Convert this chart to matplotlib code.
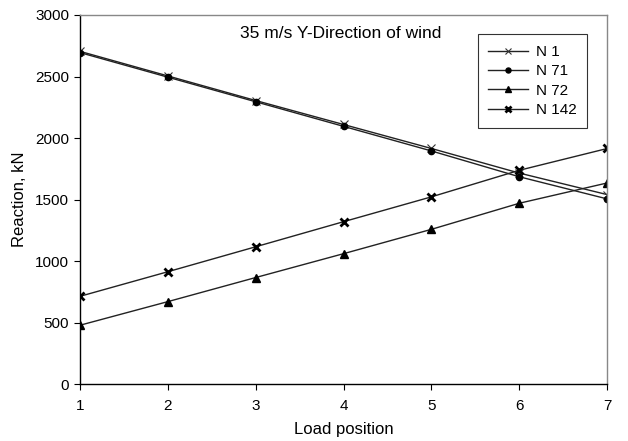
import matplotlib.pyplot as plt

plt.rcParams['font.family'] = ['Liberation Sans', 'DejaVu Sans']

positions = [1, 2, 3, 4, 5, 6, 7]
n1 = [2705, 2505, 2305, 2110, 1915, 1715, 1540]
n71 = [2695, 2495, 2295, 2095, 1895, 1685, 1505]
n72 = [478, 670, 866, 1060, 1258, 1470, 1635]
n142 = [713, 913, 1116, 1320, 1522, 1738, 1915]

fig = plt.figure(figsize=(6.28, 4.41), dpi=100)
ax = fig.add_axes([0.127, 0.129, 0.84, 0.837])

ax.plot(positions, n1, color='#222222', lw=1.0, marker='x', ms=6, mew=0.8,
        mec='#333333', label='N 1')
ax.plot(positions, n71, color='#222222', lw=1.0, marker='o', ms=4.5,
        mfc='black', mec='black', label='N 71')
ax.plot(positions, n72, color='#222222', lw=1.0, marker='^', ms=5.5,
        mfc='black', mec='black', label='N 72')
ax.plot(positions, n142, color='#222222', lw=1.0, marker='x', ms=5.5, mew=2.0,
        mec='black', label='N 142')

ax.set_xlim(1, 7)
ax.set_ylim(0, 3000)
ax.set_xticks(positions)
ax.set_yticks(range(0, 3001, 500))
ax.tick_params(direction='out', length=4, labelsize=11, colors='black')
ax.tick_params(axis='x', pad=7)

for side in ['top', 'right']:
    ax.spines[side].set_color('#888888')
    ax.spines[side].set_linewidth(1.0)
for side in ['left', 'bottom']:
    ax.spines[side].set_color('black')
    ax.spines[side].set_linewidth(1.0)

ax.set_xlabel('Load position', fontsize=12, labelpad=6)
ax.set_ylabel('Reaction, kN', fontsize=12, labelpad=6)

ax.text(0.495, 0.951, '35 m/s Y-Direction of wind', transform=ax.transAxes,
        ha='center', va='center', fontsize=12.5)

leg = ax.legend(loc='upper right', bbox_to_anchor=(0.962, 0.948), fontsize=11,
                frameon=True, fancybox=False, edgecolor='black',
                handlelength=2.6, borderpad=0.7, labelspacing=0.35,
                handletextpad=0.5, borderaxespad=0, markerscale=0.8)
leg.get_frame().set_linewidth(0.8)

fig.savefig('out.png', dpi=100)
